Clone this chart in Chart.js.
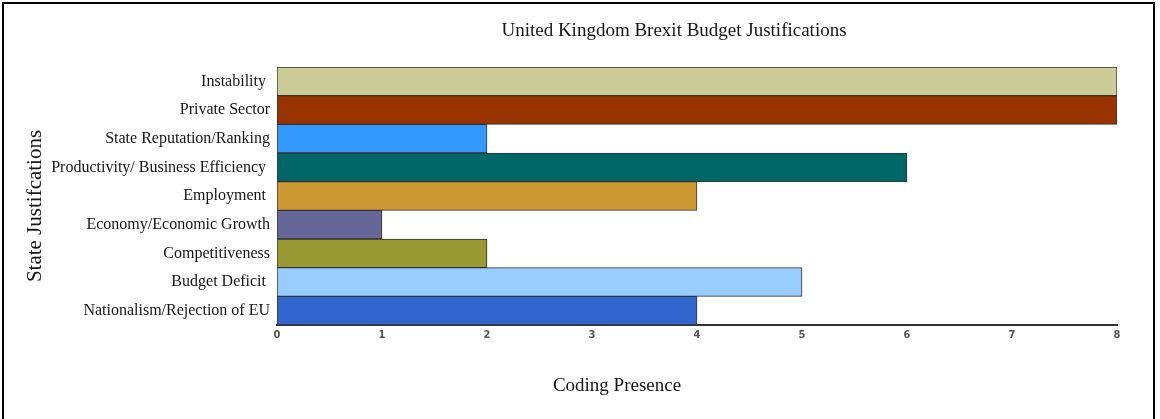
<!DOCTYPE html>
<html>
<head>
<meta charset="utf-8">
<script src="https://cdn.jsdelivr.net/npm/chart.js@4/dist/chart.umd.min.js"></script>
<style>
  body { margin: 0; background: #fff; }
  #wrap { position: relative; width: 1160px; height: 419px; overflow: hidden; }
  #frame { position: absolute; left: 2px; top: 2px; width: 1153px; height: 440px; border: 2px solid #000; box-sizing: border-box; }
  #myChart { position: absolute; left: 0; top: 0; }
</style>
</head>
<body>
<div id="wrap">
  <div id="frame"></div>
  <canvas id="myChart" width="1160" height="419"></canvas>
</div>
<script>
// categories, top to bottom
const labels = [
  'Instability ',
  'Private Sector',
  'State Reputation/Ranking',
  'Productivity/ Business Efficiency ',
  'Employment ',
  'Economy/Economic Growth',
  'Competitiveness',
  'Budget Deficit ',
  'Nationalism/Rejection of EU'
];
const counts = [8, 8, 2, 6, 4, 1, 2, 5, 4];
const barColors = [
  '#cccc99', '#993300', '#3399ff', '#006666', '#cc9933',
  '#666699', '#999933', '#99ccff', '#3366cc'
];
const xTicks = [0, 1, 2, 3, 4, 5, 6, 7, 8];

const serif = '"Liberation Serif", "DejaVu Serif", serif';

// titles are placed by hand, not centred on the plot
const titlePlugin = {
  id: 'titles',
  afterDraw(chart) {
    const ctx = chart.ctx;
    ctx.save();
    ctx.fillStyle = '#151515';
    ctx.textAlign = 'center';
    ctx.textBaseline = 'alphabetic';
    ctx.font = '19px ' + serif;
    ctx.fillText('United Kingdom Brexit Budget Justifications', 674, 36);
    ctx.fillText('Coding Presence', 617, 391);
    ctx.font = '21px ' + serif;
    ctx.translate(41, 206);
    ctx.rotate(-Math.PI / 2);
    ctx.fillText('State Justifcations', 0, 0);
    ctx.restore();
  }
};

const data = {
  labels: labels,
  datasets: [{
    data: counts,
    backgroundColor: barColors,
    borderColor: '#333333',
    borderWidth: 1,
    borderSkipped: false,
    categoryPercentage: 1.0,
    barPercentage: 1.0
  }]
};

const config = {
  type: 'bar',
  data: data,
  options: {
    indexAxis: 'y',
    responsive: false,
    animation: false,
    layout: { padding: { top: 67, right: 43, left: 0, bottom: 0 } },
    plugins: {
      legend: { display: false },
      title: { display: false },
      tooltip: { enabled: false }
    },
    scales: {
      x: {
        min: 0,
        max: 8,
        afterBuildTicks(scale) {
          scale.ticks = xTicks.map(v => ({ value: v }));
        },
        afterFit(scale) { scale.height = 94; },
        grid: { display: false, drawTicks: false },
        border: { display: true, color: '#333333', width: 2 },
        ticks: {
          padding: 4,
          color: '#555',
          font: { family: '"DejaVu Sans Condensed", "DejaVu Sans", sans-serif', size: 11, weight: 'bold' }
        }
      },
      y: {
        afterFit(scale) { scale.width = 277; },
        grid: { display: false, drawTicks: false },
        border: { display: false },
        ticks: {
          padding: 7,
          color: '#151515',
          font: { family: serif, size: 16 }
        }
      }
    }
  },
  plugins: [titlePlugin]
};

const myChart = new Chart(document.getElementById('myChart'), config);
</script>
</body>
</html>
